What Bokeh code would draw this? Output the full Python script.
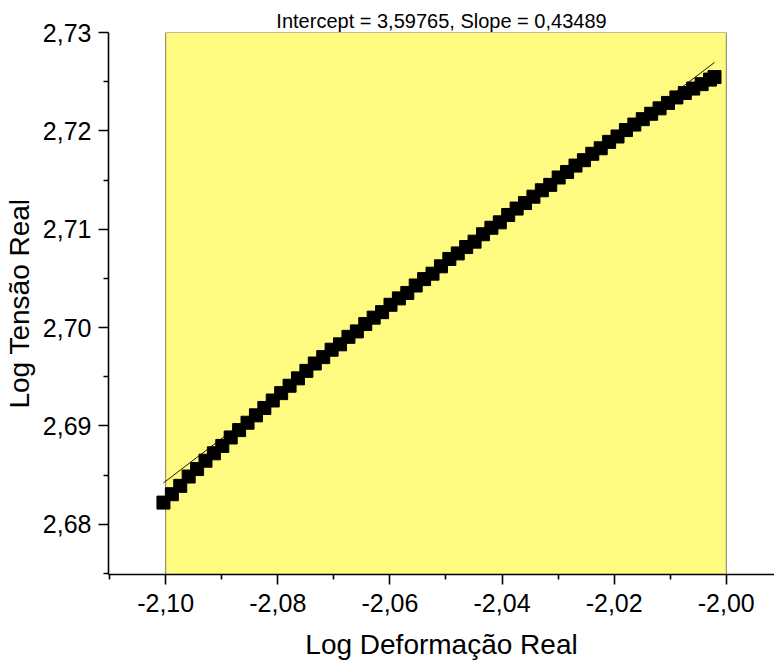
from bokeh.plotting import figure
from bokeh.models import Range1d, FixedTicker, CustomJSTickFormatter, Title
from bokeh.embed import file_html
from bokeh.resources import INLINE

# ---- data ----
X_DATA = [-2.1004, -2.0989, -2.0974, -2.0959, -2.0944, -2.0929, -2.0914, -2.0899,
          -2.0884, -2.0869, -2.0854, -2.0839, -2.0824, -2.0809, -2.0794, -2.0779,
          -2.0764, -2.0749, -2.0734, -2.0719, -2.0704, -2.0689, -2.0674, -2.0659,
          -2.0644, -2.0629, -2.0614, -2.0599, -2.0584, -2.0569, -2.0554, -2.0539,
          -2.0524, -2.0509, -2.0494, -2.0479, -2.0464, -2.0449, -2.0434, -2.0419,
          -2.0404, -2.0389, -2.0374, -2.0359, -2.0344, -2.0329, -2.0314, -2.0299,
          -2.0284, -2.0269, -2.0254, -2.0239, -2.0224, -2.0209, -2.0194, -2.0179,
          -2.0164, -2.0149, -2.0134, -2.0119, -2.0104, -2.0089, -2.0074, -2.0059,
          -2.0044, -2.0029, -2.0021]
Y_DATA = [2.68221, 2.68306, 2.68391, 2.68486, 2.68562, 2.68647, 2.68722, 2.68797,
          2.68883, 2.68958, 2.69033, 2.69108, 2.69183, 2.69259, 2.69334, 2.69409,
          2.69484, 2.69560, 2.69635, 2.69700, 2.69775, 2.69830, 2.69906, 2.69961,
          2.70036, 2.70101, 2.70157, 2.70232, 2.70297, 2.70352, 2.70428, 2.70493,
          2.70548, 2.70623, 2.70698, 2.70754, 2.70819, 2.70874, 2.70949, 2.71015,
          2.71070, 2.71145, 2.71210, 2.71266, 2.71331, 2.71396, 2.71451, 2.71526,
          2.71582, 2.71647, 2.71702, 2.71767, 2.71823, 2.71888, 2.71943, 2.72008,
          2.72064, 2.72119, 2.72174, 2.72229, 2.72284, 2.72340, 2.72385, 2.72430,
          2.72475, 2.72521, 2.72547]

INTERCEPT = 3.59765
SLOPE = 0.43489
TITLE = "Intercept = 3,59765, Slope = 0,43489"
X_LABEL = "Log Deformação Real"
Y_LABEL = "Log Tensão Real"

X_TICKS = [-2.10, -2.08, -2.06, -2.04, -2.02, -2.00]
X_TICK_LABELS = ["-2,10", "-2,08", "-2,06", "-2,04", "-2,02", "-2,00"]
X_MINOR = [-2.11, -2.09, -2.07, -2.05, -2.03, -2.01, -1.99]
Y_TICKS = [2.68, 2.69, 2.70, 2.71, 2.72, 2.73]
Y_TICK_LABELS = ["2,68", "2,69", "2,70", "2,71", "2,72", "2,73"]
Y_MINOR = [2.675, 2.685, 2.695, 2.705, 2.715, 2.725]

# highlighted (fit) region
REGION_X = (-2.10, -2.00)
X_RANGE = (-2.1102, -1.9914)
Y_RANGE = (2.6749, 2.73)

FONT = "Liberation Sans"

p = figure(width=774, height=662, output_backend="svg", toolbar_location=None,
           x_range=Range1d(*X_RANGE), y_range=Range1d(*Y_RANGE),
           min_border_left=108, min_border_right=0, min_border_top=32,
           min_border_bottom=87)
p.outline_line_color = None
p.grid.visible = False
p.background_fill_color = "white"
p.border_fill_color = "white"

t = Title(text=TITLE, align="center", text_font=FONT, text_font_size="20px",
          text_font_style="normal", text_color="black", standoff=1)
p.add_layout(t, "above")

# yellow fit region
p.quad(left=[REGION_X[0]], right=[REGION_X[1]], bottom=[Y_RANGE[0]], top=[Y_RANGE[1]],
       fill_color="#FFFA80", line_color="#857f5c", line_width=1)

# linear fit line
x0, x1 = min(X_DATA), max(X_DATA)
p.line([x0, x1], [INTERCEPT + SLOPE * x0, INTERCEPT + SLOPE * x1],
       line_color="black", line_width=0.9)

# data
p.scatter(X_DATA, Y_DATA, marker="square", size=13, fill_color="black",
          line_color="black")

fmt_code = """
let b = 0;
for (let i = 0; i < vals.length; i++) {
  if (Math.abs(vals[i] - tick) < Math.abs(vals[b] - tick)) b = i;
}
return labs[b];
"""
p.xaxis.ticker = FixedTicker(ticks=X_TICKS, minor_ticks=X_MINOR)
p.yaxis.ticker = FixedTicker(ticks=Y_TICKS, minor_ticks=Y_MINOR)
p.xaxis.formatter = CustomJSTickFormatter(args=dict(vals=X_TICKS, labs=X_TICK_LABELS), code=fmt_code)
p.yaxis.formatter = CustomJSTickFormatter(args=dict(vals=Y_TICKS, labs=Y_TICK_LABELS), code=fmt_code)

for ax in (p.xaxis[0], p.yaxis[0]):
    ax.axis_line_color = "black"
    ax.axis_line_width = 1.6
    ax.major_tick_line_color = "black"
    ax.major_tick_line_width = 1.6
    ax.minor_tick_line_color = "black"
    ax.minor_tick_line_width = 1.6
    ax.major_tick_in = 0
    ax.major_tick_out = 10
    ax.minor_tick_in = 0
    ax.minor_tick_out = 5
    ax.major_label_text_font = FONT
    ax.major_label_text_font_size = "25px"
    ax.major_label_text_color = "black"
    ax.major_label_text_line_height = 1.0
    ax.axis_label_text_font = FONT
    ax.axis_label_text_font_size = "28px"
    ax.axis_label_text_font_style = "normal"
    ax.axis_label_text_color = "black"
    ax.axis_label_text_line_height = 1.0

p.xaxis.axis_label = X_LABEL
p.yaxis.axis_label = Y_LABEL
p.xaxis.major_label_standoff = 9
p.yaxis.major_label_standoff = 7
p.xaxis.axis_label_standoff = 14
p.yaxis.axis_label_standoff = 5

open("out.html", "w").write(file_html(p, INLINE))
